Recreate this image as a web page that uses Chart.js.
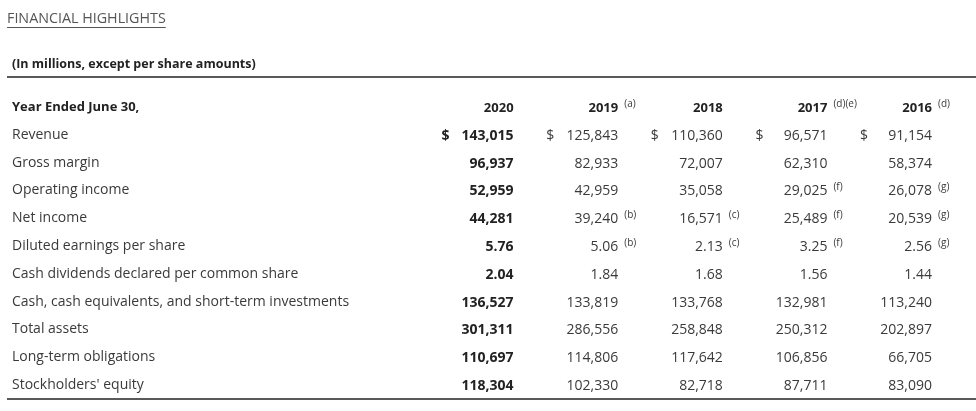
<!DOCTYPE html>
<html lang="en">
<head>
    <meta charset="UTF-8">
    <title>Financial Highlights</title>
    <script src="https://cdn.jsdelivr.net/npm/chart.js"></script>
    <style>
        body {
            margin: 0;
            background-color: #fff;
        }
        #chart-container {
            width: 976px;
            height: 411px;
        }
    </style>
</head>
<body>
    <div id="chart-container">
        <canvas id="myChart"></canvas>
    </div>
    <script>
        // table text
        const pageTitle = 'FINANCIAL HIGHLIGHTS';
        const subtitleText = '(In millions, except per share amounts)';
        const headerLabel = 'Year Ended June 30,';
        const years = ['2020', '2019', '2018', '2017', '2016'];
        const yearNotes = ['', '(a)', '', '(d)(e)', '(d)'];
        const rowLabels = [
            'Revenue', 'Gross margin', 'Operating income', 'Net income',
            'Diluted earnings per share', 'Cash dividends declared per common share',
            'Cash, cash equivalents, and short-term investments', 'Total assets',
            'Long-term obligations', "Stockholders' equity"
        ];

        // values per row, 2020 -> 2016
        const revenue = [143015, 125843, 110360, 96571, 91154];
        const grossMargin = [96937, 82933, 72007, 62310, 58374];
        const operatingIncome = [52959, 42959, 35058, 29025, 26078];
        const netIncome = [44281, 39240, 16571, 25489, 20539];
        const dilutedEps = [5.76, 5.06, 2.13, 3.25, 2.56];
        const dividends = [2.04, 1.84, 1.68, 1.56, 1.44];
        const cashAndInvestments = [136527, 133819, 133768, 132981, 113240];
        const totalAssets = [301311, 286556, 258848, 250312, 202897];
        const longTermObligations = [110697, 114806, 117642, 106856, 66705];
        const equity = [118304, 102330, 82718, 87711, 83090];

        // footnote marks
        const noNotes = ['', '', '', '', ''];
        const operatingNotes = ['', '', '', '(f)', '(g)'];
        const netIncomeNotes = ['', '(b)', '(c)', '(f)', '(g)'];
        const epsNotes = ['', '(b)', '(c)', '(f)', '(g)'];

        const rowValues = [revenue, grossMargin, operatingIncome, netIncome, dilutedEps, dividends,
            cashAndInvestments, totalAssets, longTermObligations, equity];
        const rowNotes = [noNotes, noNotes, operatingNotes, netIncomeNotes, epsNotes, noNotes,
            noNotes, noNotes, noNotes, noNotes];
        const perShareRows = ['Diluted earnings per share', 'Cash dividends declared per common share'];
        const dollarRow = 'Revenue';

        const FONT = '"Open Sans", "Noto Sans", sans-serif';

        function fmt(label, v) {
            if (perShareRows.includes(label)) return v.toFixed(2);
            return v.toLocaleString('en-US');
        }

        const datasets = [{
            label: headerLabel,
            data: years.map((yr, j) => ({ x: yr, y: headerLabel, text: yr, note: yearNotes[j] }))
        }];
        rowLabels.forEach((label, i) => {
            datasets.push({
                label: label,
                data: years.map((yr, j) => ({
                    x: yr, y: label,
                    text: fmt(label, rowValues[i][j]),
                    note: rowNotes[i][j],
                    dollar: label === dollarRow
                }))
            });
        });

        const tableText = {
            id: 'tableText',
            afterDraw(chart) {
                const ctx = chart.ctx;
                const band = chart.scales.x.width / years.length;
                ctx.save();

                // page title, underlined
                ctx.font = '14.3px ' + FONT;
                ctx.fillStyle = '#555';
                ctx.textBaseline = 'middle';
                ctx.textAlign = 'left';
                ctx.fillText(pageTitle, 7, 19);
                const tw = ctx.measureText(pageTitle).width;
                ctx.strokeStyle = '#555';
                ctx.lineWidth = 1;
                ctx.beginPath();
                ctx.moveTo(7, 27.5);
                ctx.lineTo(7 + tw, 27.5);
                ctx.stroke();

                // rules above and below the table
                ctx.strokeStyle = '#222';
                ctx.lineWidth = 1.5;
                [chart.chartArea.top - 16, chart.chartArea.bottom].forEach(y => {
                    ctx.beginPath();
                    ctx.moveTo(7, y);
                    ctx.lineTo(chart.width, y);
                    ctx.stroke();
                });

                chart.data.datasets.forEach((ds, i) => {
                    const meta = chart.getDatasetMeta(i);
                    meta.data.forEach((pt, j) => {
                        const cell = ds.data[j];
                        const bold = j === 0 || i === 0;
                        const right = pt.x + band / 2;
                        if (i === 0) {
                            ctx.font = 'bold 13px ' + FONT;
                        } else {
                            ctx.font = (bold ? 'bold ' : '') + '14px ' + FONT;
                        }
                        ctx.fillStyle = bold ? '#222' : '#3a3a3a';
                        ctx.textAlign = 'right';
                        ctx.fillText(cell.text, right, pt.y + 1);
                        if (cell.dollar) {
                            ctx.textAlign = 'left';
                            ctx.fillText('$', right - 72, pt.y + 1);
                        }
                        if (cell.note) {
                            ctx.font = '10px ' + FONT;
                            ctx.fillStyle = '#3a3a3a';
                            ctx.textAlign = 'left';
                            ctx.fillText(cell.note, right + 6, pt.y - 3);
                        }
                    });
                });
                ctx.restore();
            }
        };

        const ctx = document.getElementById('myChart').getContext('2d');
        const myChart = new Chart(ctx, {
            type: 'scatter',
            data: { datasets: datasets },
            options: {
                responsive: true,
                maintainAspectRatio: false,
                animation: false,
                layout: {
                    padding: { left: 12, right: 44, top: 42, bottom: 12 }
                },
                elements: {
                    point: { radius: 0, hoverRadius: 0 }
                },
                scales: {
                    x: {
                        type: 'category',
                        labels: years,
                        offset: true,
                        display: false
                    },
                    y: {
                        type: 'category',
                        labels: [headerLabel].concat(rowLabels),
                        offset: true,
                        afterFit(scale) {
                            scale.width = 397;
                        },
                        grid: { display: false },
                        border: { display: false },
                        ticks: {
                            autoSkip: false,
                            crossAlign: 'far',
                            color: (c) => c.index === 0 ? '#222' : '#3a3a3a',
                            font: (c) => c.index === 0
                                ? { family: FONT, size: 13, weight: 'bold' }
                                : { family: FONT, size: 14 }
                        }
                    }
                },
                plugins: {
                    legend: { display: false },
                    tooltip: { enabled: false },
                    title: { display: false },
                    subtitle: {
                        display: true,
                        text: subtitleText,
                        align: 'start',
                        color: '#222',
                        font: { family: FONT, size: 12.5, weight: 'bold' },
                        padding: { top: 15, bottom: 21 }
                    }
                }
            },
            plugins: [tableText]
        });
    </script>
</body>
</html>
